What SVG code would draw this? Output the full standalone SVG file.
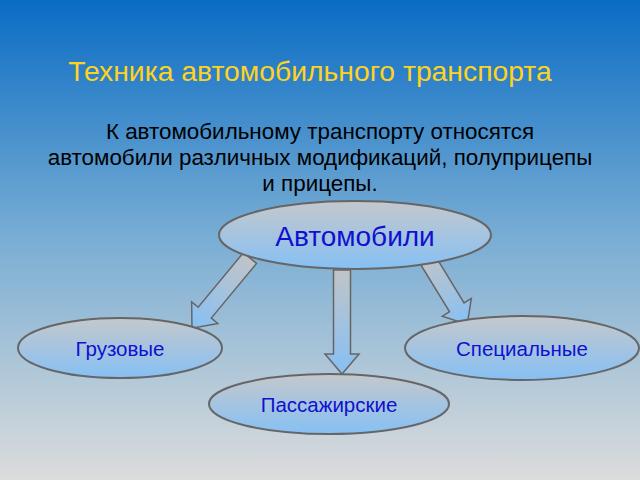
<svg xmlns="http://www.w3.org/2000/svg" width="640" height="480" viewBox="0 0 640 480">
<defs>
<linearGradient id="bg" x1="0" y1="0" x2="0" y2="1"><stop offset="0" stop-color="#0a6cc4"/><stop offset="0.5" stop-color="#7aaed4"/><stop offset="1" stop-color="#dcdcdc"/></linearGradient>
<linearGradient id="el" x1="0" y1="0" x2="0" y2="1"><stop offset="0" stop-color="#c4c8cc"/><stop offset="1" stop-color="#86c0f4"/></linearGradient>
<linearGradient id="ar" x1="0" y1="0" x2="0" y2="1"><stop offset="0" stop-color="#c0c4c8"/><stop offset="1" stop-color="#86c0f4"/></linearGradient>
</defs>
<style>
.n{fill:url(#el);stroke:#666;stroke-width:2}
.a{fill:url(#ar);stroke:#666;stroke-width:1.5}
.t{font-family:"Liberation Sans",Arial,sans-serif;text-anchor:middle}
.l{fill:#1010d0;font-size:20.5px}
</style>
<rect width="640" height="480" fill="url(#bg)"/>
<text class="t" x="310" y="81" font-size="28.3" fill="#ffd21e">Техника автомобильного транспорта</text>
<text class="t" x="320" y="139" font-size="22.4" fill="#000">К автомобильному транспорту относятся</text>
<text class="t" x="320" y="165" font-size="22.4" fill="#000">автомобили различных модификаций, полуприцепы</text>
<text class="t" x="320" y="191" font-size="22.4" fill="#000">и прицепы.</text>
<g id="connectors">
<polygon class="a" transform="translate(250,258) rotate(39.6)" points="-8.5,0 8.5,0 8.5,71 17,71 0,91 -17,71 -8.5,71"/>
<polygon class="a" transform="translate(342,270)" points="-8.5,0 8.5,0 8.5,84 17,84 0,104 -17,84 -8.5,84"/>
<polygon class="a" transform="translate(426,257) rotate(-31.5)" points="-8.5,0 8.5,0 8.5,59 17,59 0,79 -17,59 -8.5,59"/>
</g>
<g id="n-auto"><ellipse class="n" cx="355" cy="235" rx="136" ry="34"/><text class="t" x="355" y="246" font-size="28" fill="#1010d0">Автомобили</text></g>
<g id="n-gruz"><ellipse class="n" cx="120" cy="348" rx="102" ry="30"/><text class="t l" x="120" y="356">Грузовые</text></g>
<g id="n-spec"><ellipse class="n" cx="522" cy="348" rx="117" ry="32"/><text class="t l" x="522" y="356">Специальные</text></g>
<g id="n-pass"><ellipse class="n" cx="329" cy="404" rx="120" ry="30"/><text class="t l" x="329" y="412">Пассажирские</text></g>
</svg>
